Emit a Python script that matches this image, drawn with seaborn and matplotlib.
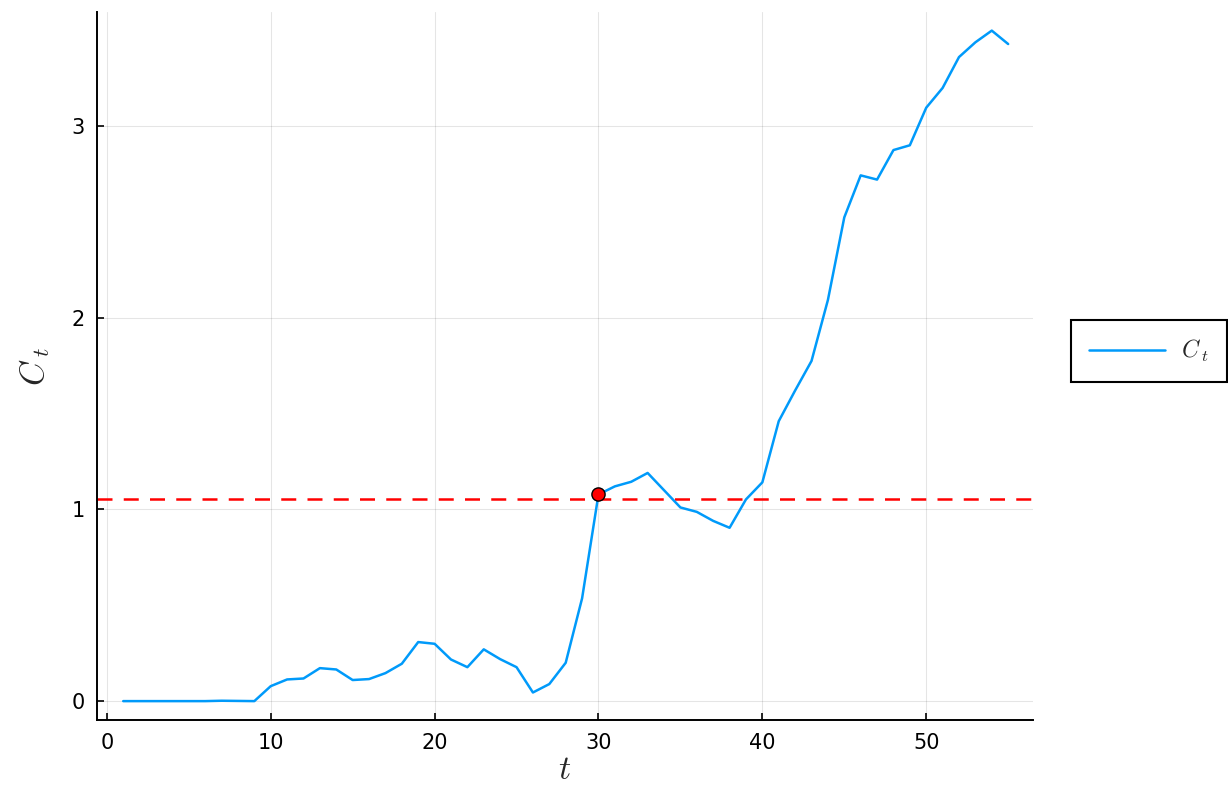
import numpy as np
import pandas as pd
import matplotlib
matplotlib.use("Agg")
import matplotlib.pyplot as plt
import seaborn as sns

# Series values, t = 1..55
t = list(range(1, 56))
c_t = [0.0, 0.0, 0.0, 0.0, 0.0, 0.0, 0.002, 0.001, 0.0, 0.078,
       0.113, 0.118, 0.172, 0.165, 0.110, 0.115, 0.146, 0.195, 0.308, 0.299,
       0.217, 0.177, 0.270, 0.219, 0.177, 0.045, 0.089, 0.200, 0.536, 1.078,
       1.120, 1.144, 1.190, 1.100, 1.010, 0.987, 0.940, 0.904, 1.052, 1.141,
       1.460, 1.620, 1.774, 2.092, 2.523, 2.742, 2.720, 2.874, 2.899, 3.095,
       3.198, 3.359, 3.436, 3.497, 3.427]
threshold = 1.055
marked_t = 30
x_ticks = [0, 10, 20, 30, 40, 50]
y_ticks = [0, 1, 2, 3]

sns.set_theme(style="white")
plt.rcParams["font.family"] = ["DejaVu Sans"]
plt.rcParams["mathtext.fontset"] = "cm"

df = pd.DataFrame({"t": t, "C": c_t})

fig = plt.figure(figsize=(12.28, 8.01), dpi=100)
ax = fig.add_axes([0.079, 0.101, 0.762, 0.884])

sns.lineplot(data=df, x="t", y="C", ax=ax, color="#009AFA", linewidth=1.8,
             label=r"$C_{\;t}$", zorder=3)
ax.axhline(threshold, color="#FF0000", linestyle=(0, (6, 4.5)), linewidth=1.8, zorder=2)
marked_val = c_t[t.index(marked_t)]
ax.plot([marked_t], [marked_val], marker="o", markersize=9.5, color="#FF0000",
        markeredgecolor="black", markeredgewidth=1.0, zorder=4, linestyle="none")

ax.set_xlim(-0.6, 56.5)
ax.set_ylim(-0.099, 3.594)
ax.set_xticks(x_ticks)
ax.set_yticks(y_ticks)
ax.grid(True, color="black", alpha=0.1, linewidth=0.8)
for side in ["top", "right"]:
    ax.spines[side].set_visible(False)
for side in ["left", "bottom"]:
    ax.spines[side].set_color("black")
    ax.spines[side].set_linewidth(1.4)
ax.tick_params(axis="both", direction="in", length=5, width=1.2, color="black",
               labelsize=15, labelcolor="black", pad=9, left=True, bottom=True)

ax.set_xlabel(r"$t$", fontsize=24, labelpad=0)
ax.set_ylabel(r"$C_{\;t}$", fontsize=24, labelpad=14)

leg = ax.legend(loc="center left", bbox_to_anchor=(0.8725, 0.562), bbox_transform=fig.transFigure,
                frameon=True, fancybox=False, framealpha=1.0, fontsize=17, handlelength=3.2,
                borderpad=0.75, handletextpad=0.7, borderaxespad=0)
leg.get_frame().set_edgecolor("black")
leg.get_frame().set_linewidth(1.5)

fig.savefig("out.png", dpi=100)
